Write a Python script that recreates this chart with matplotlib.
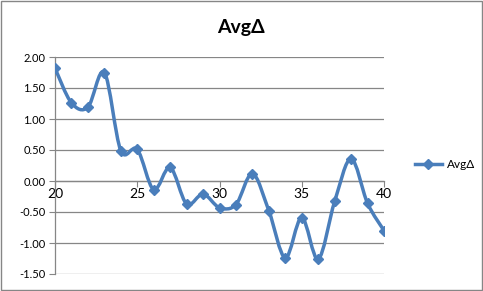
import numpy as np
import matplotlib.pyplot as plt
from matplotlib.path import Path
from matplotlib.patches import PathPatch, Rectangle
from matplotlib.lines import Line2D

plt.rcParams['font.family'] = ['Lato', 'DejaVu Sans']

# data
x_vals = [20, 21, 22, 23, 24, 25, 26, 27, 28, 29, 30,
          31, 32, 33, 34, 35, 36, 37, 38, 39, 40]
avg_delta = [1.82, 1.26, 1.19, 1.75, 0.49, 0.51, -0.14, 0.22, -0.37, -0.21, -0.43,
             -0.38, 0.12, -0.48, -1.24, -0.59, -1.26, -0.33, 0.36, -0.36, -0.80]
series_name = "AvgΔ"
y_ticks = [-1.5, -1.0, -0.5, 0.0, 0.5, 1.0, 1.5, 2.0]
x_ticks = [20, 25, 30, 35, 40]

BLUE = '#4A7EBB'
GRID = '#868686'


def smooth_path(xs, ys):
    """Excel-style smoothed line: cubic Bezier through every point."""
    pts = np.column_stack([xs, ys]).astype(float)
    n = len(pts)
    verts = [pts[0]]
    codes = [Path.MOVETO]
    for i in range(n - 1):
        p0 = pts[max(i - 1, 0)]
        p1 = pts[i]
        p2 = pts[i + 1]
        p3 = pts[min(i + 2, n - 1)]
        c1 = p1 + (p2 - p0) / 6.0
        c2 = p2 - (p3 - p1) / 6.0
        verts += [c1, c2, p2]
        codes += [Path.CURVE4] * 3
    return Path(verts, codes)


fig = plt.figure(figsize=(4.83, 2.91), dpi=100)
ax = fig.add_axes([55 / 483, 17 / 291, 329 / 483, 217 / 291])

ax.add_patch(PathPatch(smooth_path(x_vals, avg_delta), facecolor='none',
                       edgecolor=BLUE, linewidth=2.5, capstyle='round',
                       joinstyle='round', zorder=3))
ax.plot(x_vals, avg_delta, linestyle='none', marker='D', markersize=5.5,
        color=BLUE, zorder=4)

ax.set_xlim(20, 40)
ax.set_ylim(-1.5, 2.0)
ax.set_yticks(y_ticks)
ax.set_yticklabels([f"{v:.2f}" for v in y_ticks], fontsize=8)
ax.set_xticks(x_ticks)
ax.set_xticklabels([str(v) for v in x_ticks], fontsize=8)
ax.yaxis.grid(True, color=GRID, linewidth=0.9)
ax.set_axisbelow(True)

for side in ('top', 'right'):
    ax.spines[side].set_visible(False)
ax.spines['left'].set_color(GRID)
ax.spines['left'].set_linewidth(0.9)
ax.spines['bottom'].set_position(('data', 0))
ax.spines['bottom'].set_color(GRID)
ax.spines['bottom'].set_linewidth(0.9)
ax.tick_params(axis='y', length=4, color=GRID, pad=3)
ax.tick_params(axis='x', length=4, color=GRID, pad=1)

fig.text(241 / 483, 1 - 27 / 291, series_name, fontsize=14, fontweight='bold',
         ha='center', va='center')

handle = Line2D([], [], color=BLUE, linewidth=2.5, marker='D', markersize=5.5)
fig.legend([handle], [series_name], loc='center left',
           bbox_to_anchor=(404 / 483, 1 - 165 / 291), frameon=False,
           fontsize=8.5, handlelength=2.3, handletextpad=0.4)

fig.add_artist(Rectangle((0.002, 0.003), 0.995, 0.993, transform=fig.transFigure,
                         fill=False, edgecolor=GRID, linewidth=1.0))

fig.savefig('out.png', dpi=100)
